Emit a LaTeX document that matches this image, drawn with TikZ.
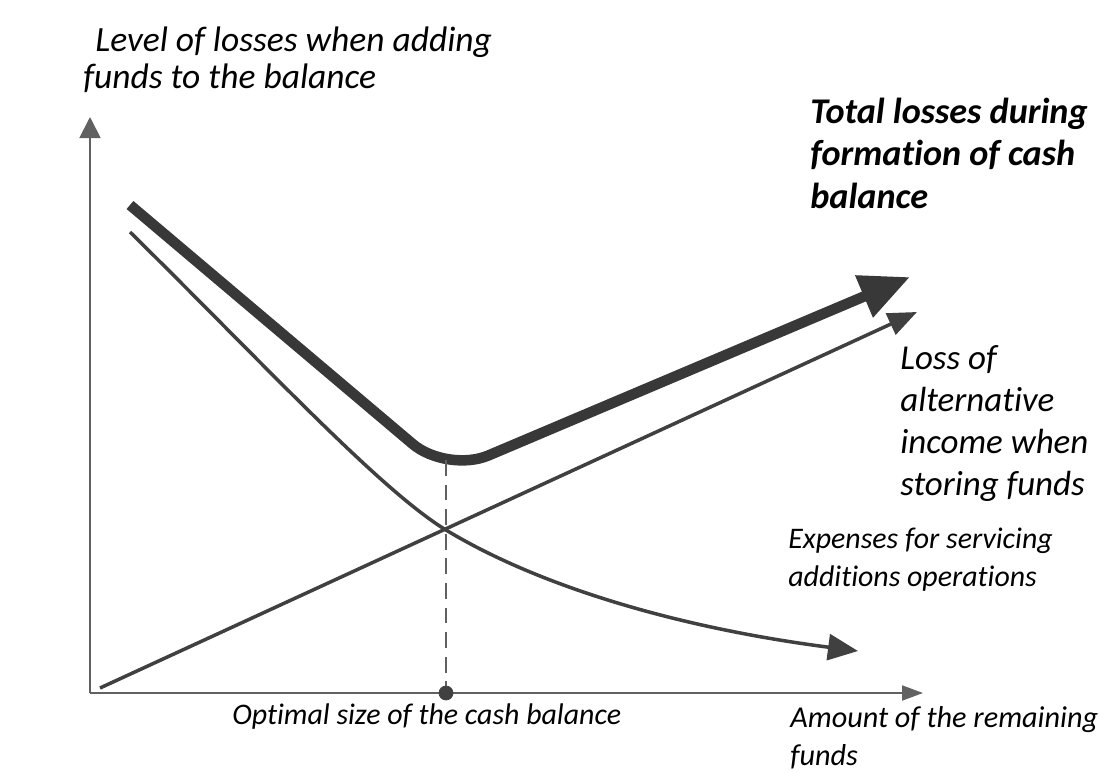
\documentclass[tikz,border=0pt]{standalone}
\usepackage{fontspec}
\setmainfont{Carlito}[Ligatures=NoCommon]
\usetikzlibrary{arrows.meta}

\begin{document}
\begin{tikzpicture}[x=0.02cm,y=-0.02cm,
    axis/.style={line width=1.1pt,draw=black!62},
    thincurve/.style={line width=2pt,draw=black!75},
    thickcurve/.style={line width=6pt,draw=black!78},
    lbl/.style={inner sep=0pt,anchor=north west,align=left}]
	\useasboundingbox (0,0) rectangle (1100,772);

	% Key points of the plot
	\coordinate (O) at (90,693);
	\coordinate (ytip) at (90,117);
	\coordinate (xtip) at (923,693);
	\coordinate (opt) at (446,693);
	\coordinate (tmin) at (446,460);
	\coordinate (cross) at (446,530);

	% Draw the axes
	\draw[axis,-{Triangle[length=0.42cm,width=0.42cm]}] (O) -- (ytip);
	\draw[axis,-{Triangle[length=0.42cm,width=0.3cm]}] (O) -- (xtip);

	% Loss of alternative income (straight line)
	\draw[thincurve,-{Triangle[length=0.58cm,width=0.46cm]}] (100,688) -- (917,312);

	% Expenses for servicing operations
	\draw[thincurve,-{Triangle[length=0.6cm,width=0.52cm]}] (130,232) .. controls (260,360) and (380,490) .. (cross)
	  .. controls (540,587) and (680,628) .. (858,651);

	% Total losses
	\draw[thickcurve,rounded corners=0.9cm,-{Triangle[length=1cm,width=0.86cm]}] (130,205) -- (447,473) -- (910,277);

	% Optimal size
	\draw[axis,dashed,dash pattern=on 9pt off 5pt] (tmin) -- (opt);
	\filldraw[black!75] (opt) circle (0.14cm);

	% Labels
	\node[lbl,font=\fontsize{20.2}{21.6}\selectfont\itshape] (ylabel) at (83,26)
	  {\hspace*{0.24cm}Level of losses when adding\\funds to the balance};
	\node[lbl,font=\fontsize{20.6}{24}\selectfont\bfseries\itshape] (total) at (810,98)
	  {Total losses during\\formation of cash\\balance};
	\node[lbl,font=\fontsize{19.9}{24}\selectfont\itshape] (loss) at (900,345)
	  {Loss of\\alternative\\income when\\storing funds};
	\node[lbl,font=\fontsize{17}{21.6}\selectfont\itshape] (expenses) at (788,528)
	  {Expenses for servicing\\additions operations};
	\node[inner sep=0pt,anchor=west,font=\fontsize{17}{19}\selectfont\itshape] (optlabel) at (232,717)
	  {Optimal size of the cash balance};
	\node[lbl,font=\fontsize{17.2}{21.6}\selectfont\itshape] (xlabel) at (790,706)
	  {Amount of the remaining\\funds};
\end{tikzpicture}
\end{document}
